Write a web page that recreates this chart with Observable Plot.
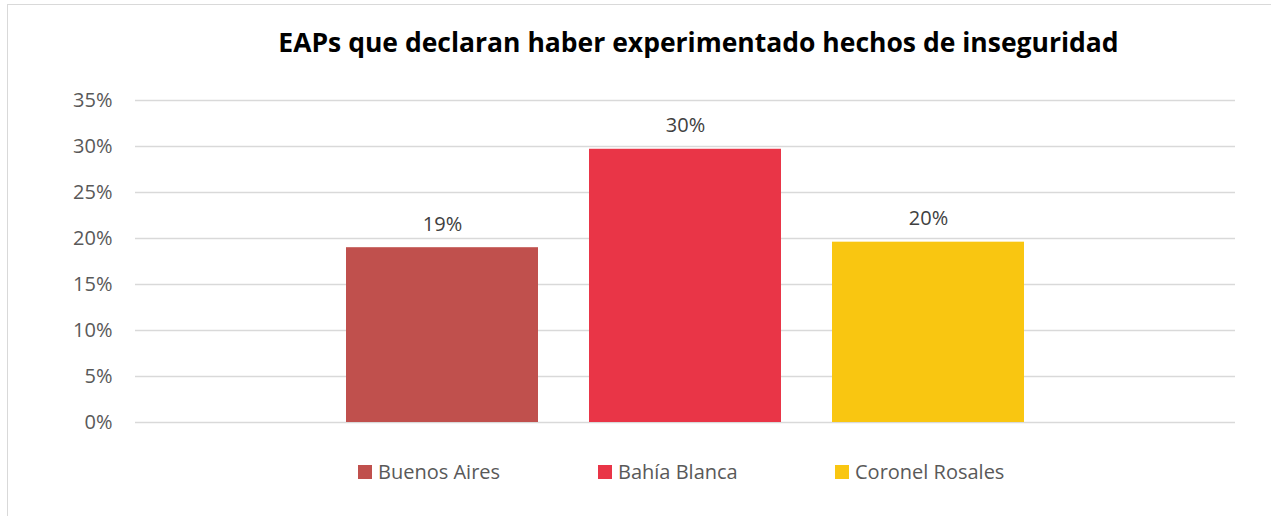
<!DOCTYPE html>
<html>
<head>
<meta charset="utf-8">
<script src="https://cdn.jsdelivr.net/npm/d3@7"></script>
<script src="https://cdn.jsdelivr.net/npm/@observablehq/plot@0.6"></script>
<style>
  body { margin: 0; background: #fff; }
  #wrap { position: relative; width: 1271px; height: 516px; overflow: hidden; font-family: "Open Sans", sans-serif; }
  #frame { position: absolute; left: 7px; top: 4px; width: 1300px; height: 600px; border-left: 1.5px solid #d9d9d9; border-top: 1.5px solid #d9d9d9; }
  #title { position: absolute; top: 24px; left: 0; width: 1397px; text-align: center; font-weight: 700; font-size: 26.5px; color: #000; white-space: nowrap; }
  #chart { position: absolute; left: 0; top: 0; }
  #legend { position: absolute; top: 458px; left: 0; width: 1271px; height: 30px; }
  .item { position: absolute; display: flex; align-items: center; font-size: 20px; color: #595959; white-space: nowrap; }
  .sw { width: 14px; height: 14px; margin-right: 6px; }
</style>
</head>
<body>
<div id="wrap">
  <div id="frame"></div>
  <div id="chart"></div>
  <div id="title">EAPs que declaran haber experimentado hechos de inseguridad</div>
  <div id="legend"></div>
</div>
<script>
const categories = ["Buenos Aires", "Bahía Blanca", "Coronel Rosales"];
const values = [0.190, 0.297, 0.196];
const labels = ["19%", "30%", "20%"];
const colors = ["#C0504D", "#E93547", "#F9C611"];
const yTicks = [0, 0.05, 0.10, 0.15, 0.20, 0.25, 0.30, 0.35];

const data = categories.map((c, i) => ({category: c, value: values[i], label: labels[i]}));

const plot = Plot.plot({
  width: 1271,
  height: 440,
  marginTop: 100,
  marginBottom: 18,
  marginLeft: 135,
  marginRight: 36,
  style: {fontFamily: "Open Sans, sans-serif", fontSize: "20px", color: "#595959", background: "transparent"},
  x: {domain: categories, paddingInner: 0.21, paddingOuter: 0.86, axis: null},
  y: {domain: [0, 0.35], ticks: yTicks, tickFormat: d => Math.round(d * 100) + "%", label: null, tickSize: 0, tickPadding: 23},
  color: {domain: categories, range: colors},
  marks: [
    Plot.gridY(yTicks, {stroke: "#d9d9d9", strokeOpacity: 1, strokeWidth: 1.5}),
    Plot.axisY({ticks: yTicks, tickFormat: d => Math.round(d * 100) + "%", tickSize: 0, tickPadding: 23, fontSize: 20, fill: "#595959", label: null}),
    Plot.barY(data, {x: "category", y: "value", fill: "category"}),
    Plot.text(data, {x: "category", y: "value", text: "label", lineAnchor: "bottom", dy: -17, fontSize: 20, fill: "#404040"})
  ]
});
document.getElementById("chart").appendChild(plot);

const legendX = [358, 598, 835];
const legend = document.getElementById("legend");
categories.forEach((c, i) => {
  const it = document.createElement("div");
  it.className = "item";
  it.style.left = legendX[i] + "px";
  it.innerHTML = `<div class="sw" style="background:${colors[i]}"></div><span>${c}</span>`;
  legend.appendChild(it);
});
</script>
</body>
</html>
